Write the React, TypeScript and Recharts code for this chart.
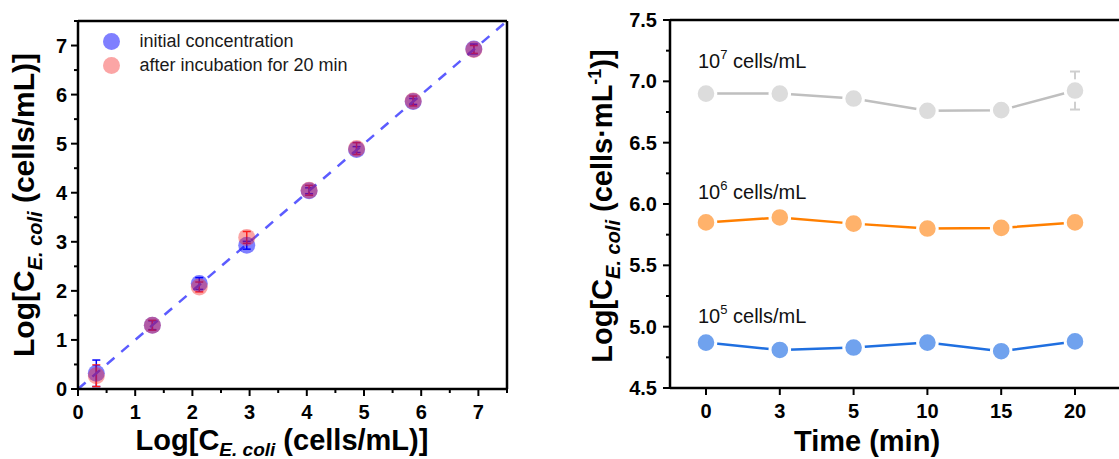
import React from "react";
import {
  ComposedChart,
  LineChart,
  Line,
  Scatter,
  XAxis,
  YAxis,
  ErrorBar,
  ReferenceLine,
  ReferenceDot,
  Legend,
} from "recharts";

const FONT = "Arial, 'Liberation Sans', Helvetica, sans-serif";

// ---- left panel: spiked vs. measured ----
const logInput = [0.32, 1.3, 2.12, 2.95, 4.04, 4.87, 5.86, 6.92];
const initialConc = [0.32, 1.3, 2.15, 2.93, 4.04, 4.88, 5.86, 6.93];
const initialErr = [0.27, 0.09, 0.12, 0.08, 0.06, 0.06, 0.06, 0.1];
const afterConc = [0.27, 1.3, 2.08, 3.09, 4.05, 4.9, 5.87, 6.92];
const afterErr = [0.22, 0.1, 0.1, 0.12, 0.1, 0.12, 0.1, 0.08];
const logTicks = [0, 0.5, 1, 1.5, 2, 2.5, 3, 3.5, 4, 4.5, 5, 5.5, 6, 6.5, 7, 7.5];
const logMax = 7.5;
const legendNames = ["initial concentration", "after incubation for 20 min"];
const legendColors = ["rgba(0,0,255,0.5)", "rgba(245,40,40,0.42)"];

// ---- right panel: stability over time ----
const times = ["0", "3", "5", "10", "15", "20"];
const conc7 = [6.9, 6.9, 6.86, 6.76, 6.765, 6.925];
const conc7Err = [0.04, 0.04, 0.04, 0.04, 0.04, 0.155];
const conc6 = [5.85, 5.89, 5.84, 5.8, 5.805, 5.85];
const conc6Err = [0.04, 0.04, 0.04, 0.04, 0.04, 0.04];
const conc5 = [4.87, 4.81, 4.83, 4.87, 4.8, 4.88];
const conc5Err = [0.04, 0.04, 0.04, 0.04, 0.03, 0.04];
const timeTicks = [4.5, 4.75, 5, 5.25, 5.5, 5.75, 6, 6.25, 6.5, 6.75, 7, 7.25, 7.5];
const annotationExp = ["7", "6", "5"];
const annotationY = [7.11, 6.04, 5.03];

const initialData = logInput.map((x, i) => ({ x, y: initialConc[i], err: initialErr[i] }));
const afterData = logInput.map((x, i) => ({ x, y: afterConc[i], err: afterErr[i] }));
const timeData = times.map((time, i) => ({
  time,
  c7: conc7[i],
  c7e: conc7Err[i],
  c6: conc6[i],
  c6e: conc6Err[i],
  c5: conc5[i],
  c5e: conc5Err[i],
}));

const axisLine = { stroke: "#000", strokeWidth: 2.5 };

function bottomTick(isMajor: (v: number) => boolean, fmt: (v: any) => string) {
  return (props: any) => {
    const { x, y, payload } = props;
    const major = isMajor(payload.value);
    return (
      <g>
        <line x1={x} y1={y} x2={x} y2={y + (major ? 7 : 4)} stroke="#000" strokeWidth={2} />
        {major && (
          <text x={x} y={y + 30} textAnchor="middle" fontSize={20} fontWeight="bold" fontFamily={FONT} fill="#000">
            {fmt(payload.value)}
          </text>
        )}
      </g>
    );
  };
}

function leftTick(isMajor: (v: number) => boolean, fmt: (v: number) => string, gap: number) {
  return (props: any) => {
    const { x, y, payload } = props;
    const major = isMajor(payload.value);
    return (
      <g>
        <line x1={x} y1={y} x2={x - (major ? 7 : 4)} y2={y} stroke="#000" strokeWidth={2} />
        {major && (
          <text x={x - gap} y={y + 7} textAnchor="end" fontSize={20} fontWeight="bold" fontFamily={FONT} fill="#000">
            {fmt(payload.value)}
          </text>
        )}
      </g>
    );
  };
}

const isInt = (v: number) => Number.isInteger(v);
const isHalf = (v: number) => Number.isInteger(v * 2);

const leftXTitle = (p: any) => {
  const { x, y } = p.viewBox;
  return (
    <text x={x + 204} y={y + 61} textAnchor="middle" fontSize={29} fontWeight="bold" fontFamily={FONT} fill="#000">
      Log[C
      <tspan dy={6} fontSize={19} fontStyle="italic">E. coli</tspan>
      <tspan dy={-6}> (cells/mL)]</tspan>
    </text>
  );
};

const leftYTitle = (p: any) => {
  const { x } = p.viewBox;
  const bx = x + 6;
  const cy = 205;
  return (
    <text x={bx} y={cy} transform={`rotate(-90, ${bx}, ${cy})`} textAnchor="middle" fontSize={30} fontWeight="bold" fontFamily={FONT} fill="#000">
      Log[C
      <tspan dy={8} fontSize={20} fontStyle="italic">E. coli</tspan>
      <tspan dy={-8}> (cells/mL)]</tspan>
    </text>
  );
};

const rightXTitle = (p: any) => {
  const { x, y } = p.viewBox;
  return (
    <text x={x + 197} y={y + 63} textAnchor="middle" fontSize={29} fontWeight="bold" fontFamily={FONT} fill="#000">
      Time (min)
    </text>
  );
};

const rightYTitle = (p: any) => {
  const { x } = p.viewBox;
  const bx = x + 12;
  const cy = 206;
  return (
    <text x={bx} y={cy} transform={`rotate(-90, ${bx}, ${cy})`} textAnchor="middle" fontSize={29} fontWeight="bold" fontFamily={FONT} fill="#000">
      Log[C
      <tspan dy={8} fontSize={20} fontStyle="italic">E. coli</tspan>
      <tspan dy={-8}> (cells·mL</tspan>
      <tspan dy={-11} fontSize={18}>-1</tspan>
      <tspan dy={11}>)]</tspan>
    </text>
  );
};

const annotation = (exp: string) => (p: any) => {
  const { x, y } = p.viewBox;
  return (
    <text x={x - 8} y={y} fontSize={20} fontFamily={FONT} fill="#111">
      10
      <tspan dy={-9} fontSize={13}>{exp}</tspan>
      <tspan dy={9}> cells/mL</tspan>
    </text>
  );
};

const LegendBox = () => (
  <div style={{ fontFamily: FONT, fontSize: 18, color: "#1a1a1a" }}>
    {legendNames.map((name, i) => (
      <div key={name} style={{ display: "flex", alignItems: "center", height: 23.6, whiteSpace: "nowrap" }}>
        <svg width={17} height={17}>
          <circle cx={8.5} cy={8.5} r={8.5} fill={legendColors[i]} />
        </svg>
        <span style={{ marginLeft: 20 }}>{name}</span>
      </div>
    ))}
  </div>
);

const dotShape = (color: string) => (props: any) => (
  <circle cx={props.cx} cy={props.cy} r={8.5} fill={color} />
);

export default function App() {
  return (
    <div style={{ position: "absolute", left: 0, top: 0, width: 1119, height: 459, overflow: "hidden", background: "#fff" }}>
      <div style={{ position: "absolute", left: 0, top: 0 }}>
        <ComposedChart width={560} height={459} margin={{ top: 21, right: 53, bottom: 0, left: 28 }}>
          <XAxis
            type="number"
            dataKey="x"
            domain={[0, logMax]}
            ticks={logTicks}
            interval={0}
            tickSize={0}
            tickMargin={0}
            tickLine={false}
            axisLine={axisLine}
            tick={bottomTick(isInt, (v) => String(v))}
            height={70}
            allowDataOverflow
            label={{ content: leftXTitle }}
          />
          <YAxis
            type="number"
            dataKey="y"
            domain={[0, logMax]}
            ticks={logTicks}
            interval={0}
            tickSize={0}
            tickMargin={0}
            tickLine={false}
            axisLine={axisLine}
            tick={leftTick(isInt, (v) => String(v), 11)}
            width={50}
            allowDataOverflow
            label={{ content: leftYTitle }}
          />
          <Scatter name={legendNames[0]} data={initialData} fill={legendColors[0]} shape={dotShape(legendColors[0])} isAnimationActive={false}>
            <ErrorBar dataKey="err" direction="y" width={4} stroke="#0000ff" strokeWidth={1.5} />
          </Scatter>
          <Scatter name={legendNames[1]} data={afterData} fill={legendColors[1]} shape={dotShape(legendColors[1])} isAnimationActive={false}>
            <ErrorBar dataKey="err" direction="y" width={4} stroke="#ff1a1a" strokeWidth={1.5} />
          </Scatter>
          <ReferenceLine
            segment={[{ x: 0, y: 0 }, { x: logMax, y: logMax }]}
            stroke="#5c5cff"
            strokeWidth={2.5}
            strokeDasharray="10 9"
          />
          <ReferenceLine y={logMax} stroke="#000" strokeWidth={2.5} />
          <ReferenceLine x={logMax} stroke="#000" strokeWidth={2.5} />
          <Legend
            layout="vertical"
            align="center"
            verticalAlign="middle"
            wrapperStyle={{ left: 102.5, top: 30, width: "auto" }}
            content={() => <LegendBox />}
          />
        </ComposedChart>
      </div>
      <div style={{ position: "absolute", left: 560, top: 0 }}>
        <LineChart width={580} height={459} data={timeData} margin={{ top: 20, right: 14, bottom: 0, left: 40 }}>
          <XAxis
            dataKey="time"
            type="category"
            padding={{ left: 36, right: 51 }}
            interval={0}
            tickSize={0}
            tickMargin={0}
            tickLine={false}
            axisLine={axisLine}
            tick={bottomTick(() => true, (v) => String(v))}
            height={71}
            label={{ content: rightXTitle }}
          />
          <YAxis
            type="number"
            domain={[4.5, 7.5]}
            ticks={timeTicks}
            interval={0}
            tickSize={0}
            tickMargin={0}
            tickLine={false}
            axisLine={axisLine}
            tick={leftTick(isHalf, (v) => v.toFixed(1), 13)}
            width={70}
            allowDataOverflow
            label={{ content: rightYTitle }}
          />
          <ReferenceLine y={7.5} stroke="#000" strokeWidth={2.5} />
          <Line
            dataKey="c7"
            stroke="#bfbfbf"
            strokeWidth={2.5}
            dot={{ r: 9.8, fill: "#dcdcdc", stroke: "#fff", strokeWidth: 3 }}
            activeDot={false}
            isAnimationActive={false}
          >
            <ErrorBar dataKey="c7e" direction="y" width={5} stroke="#cfcfcf" strokeWidth={2} />
          </Line>
          <Line
            dataKey="c6"
            stroke="#ff7f00"
            strokeWidth={2.5}
            dot={{ r: 9.8, fill: "#ffb26b", stroke: "#fff", strokeWidth: 3 }}
            activeDot={false}
            isAnimationActive={false}
          >
            <ErrorBar dataKey="c6e" direction="y" width={5} stroke="#ff9a3c" strokeWidth={2} />
          </Line>
          <Line
            dataKey="c5"
            stroke="#1f6fe0"
            strokeWidth={2.5}
            dot={{ r: 9.8, fill: "#70a2ee", stroke: "#fff", strokeWidth: 3 }}
            activeDot={false}
            isAnimationActive={false}
          >
            <ErrorBar dataKey="c5e" direction="y" width={5} stroke="#4a88e8" strokeWidth={2} />
          </Line>
          {annotationExp.map((exp, i) => (
            <ReferenceDot key={exp} x={times[0]} y={annotationY[i]} r={0} fill="none" stroke="none" label={{ content: annotation(exp) }} />
          ))}
        </LineChart>
      </div>
    </div>
  );
}
